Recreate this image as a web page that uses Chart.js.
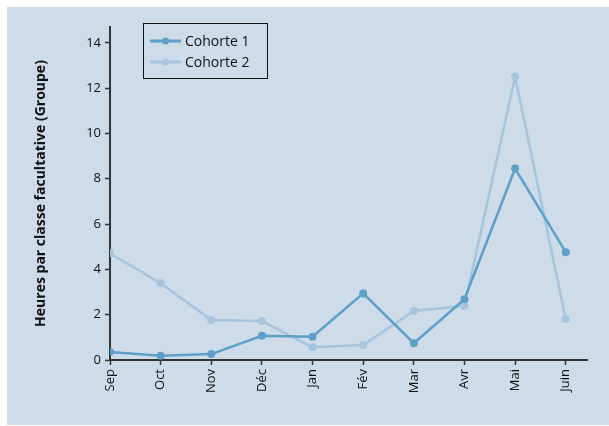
<!DOCTYPE html>
<html>
<head>
<meta charset="utf-8">
<script src="https://cdn.jsdelivr.net/npm/chart.js@4/dist/chart.umd.min.js"></script>
<style>
  html, body { margin: 0; padding: 0; background: #ffffff; }
  #wrap { width: 609px; height: 426px; }
</style>
</head>
<body>
<div id="wrap"><canvas id="myChart" width="609" height="426"></canvas></div>
<script>
var months = ['Sep', 'Oct', 'Nov', 'Déc', 'Jan', 'Fév', 'Mar', 'Avr', 'Mai', 'Juin'];
var cohorte1 = [0.35, 0.19, 0.26, 1.07, 1.03, 2.94, 0.74, 2.68, 8.45, 4.76];
var cohorte2 = [4.71, 3.39, 1.77, 1.72, 0.56, 0.66, 2.16, 2.38, 12.5, 1.81];
var yTicks = [0, 2, 4, 6, 8, 10, 12, 14];

var darkBlue = '#5e9fc7';
var lightBlue = '#a5c5de';
var panelColor = '#cedbe8';
var axisColor = '#333333';
var fontFamily = "'Open Sans', 'Noto Sans', sans-serif";

function toPoints(values) {
    return values.map(function (v, i) { return { x: i, y: v }; });
}

// grey-blue panel behind everything
var panelPlugin = {
    id: 'panel',
    beforeDraw: function (chart) {
        var ctx = chart.ctx;
        ctx.save();
        ctx.fillStyle = panelColor;
        ctx.fillRect(7, 7, 602, 418);
        ctx.restore();
    }
};

// boxed legend with line + dot samples
var boxLegendPlugin = {
    id: 'boxLegend',
    afterDraw: function (chart) {
        var ctx = chart.ctx;
        ctx.save();
        ctx.strokeStyle = '#111111';
        ctx.lineWidth = 1;
        ctx.strokeRect(143.5, 23.5, 124, 55);
        chart.data.datasets.forEach(function (ds, i) {
            var y = 41 + i * 21;
            ctx.strokeStyle = ds.borderColor;
            ctx.lineWidth = 3;
            ctx.beginPath();
            ctx.moveTo(150, y);
            ctx.lineTo(181, y);
            ctx.stroke();
            ctx.fillStyle = ds.borderColor;
            ctx.beginPath();
            ctx.arc(165.5, y, 3.5, 0, Math.PI * 2);
            ctx.fill();
            ctx.fillStyle = '#111111';
            ctx.font = '14px ' + fontFamily;
            ctx.textBaseline = 'middle';
            ctx.textAlign = 'left';
            ctx.fillText(ds.label, 185, y + 1);
        });
        ctx.restore();
    }
};

var ctx = document.getElementById('myChart').getContext('2d');
var myChart = new Chart(ctx, {
    type: 'line',
    data: {
        datasets: [{
            label: 'Cohorte 1',
            data: toPoints(cohorte1),
            borderColor: darkBlue,
            backgroundColor: darkBlue,
            borderWidth: 2.5,
            pointRadius: 4,
            pointBorderWidth: 0,
            fill: false,
            tension: 0
        }, {
            label: 'Cohorte 2',
            data: toPoints(cohorte2),
            borderColor: lightBlue,
            backgroundColor: lightBlue,
            borderWidth: 2.5,
            pointRadius: 4,
            pointBorderWidth: 0,
            fill: false,
            tension: 0
        }]
    },
    options: {
        responsive: false,
        animation: false,
        layout: { padding: { left: 0, top: 27, right: 22, bottom: 0 } },
        plugins: {
            legend: { display: false },
            tooltip: { enabled: false }
        },
        scales: {
            x: {
                type: 'linear',
                min: 0,
                max: 9.42,
                afterBuildTicks: function (scale) {
                    scale.ticks = months.map(function (m, i) { return { value: i }; });
                },
                afterFit: function (scale) { scale.height = 66; },
                ticks: {
                    autoSkip: false,
                    maxRotation: 90,
                    minRotation: 90,
                    padding: 4,
                    color: '#111111',
                    font: { family: fontFamily, size: 13 },
                    callback: function (value) { return months[value]; }
                },
                grid: {
                    drawOnChartArea: false,
                    tickLength: 5,
                    tickColor: axisColor,
                    tickWidth: 1.5
                },
                border: { color: axisColor, width: 2 }
            },
            y: {
                min: 0,
                max: 14.7,
                afterBuildTicks: function (scale) {
                    scale.ticks = yTicks.map(function (v) { return { value: v }; });
                },
                afterFit: function (scale) { scale.width = 110; },
                ticks: {
                    padding: 4,
                    color: '#111111',
                    font: { family: fontFamily, size: 13 }
                },
                grid: {
                    drawOnChartArea: false,
                    tickLength: 5,
                    tickColor: axisColor,
                    tickWidth: 1.5
                },
                border: { color: axisColor, width: 2 },
                title: {
                    display: true,
                    text: 'Heures par classe facultative (Groupe)',
                    color: '#111111',
                    font: { family: fontFamily, size: 14, weight: 'bold' },
                    padding: { top: 33, bottom: 0 }
                }
            }
        }
    },
    plugins: [panelPlugin, boxLegendPlugin]
});
</script>
</body>
</html>
